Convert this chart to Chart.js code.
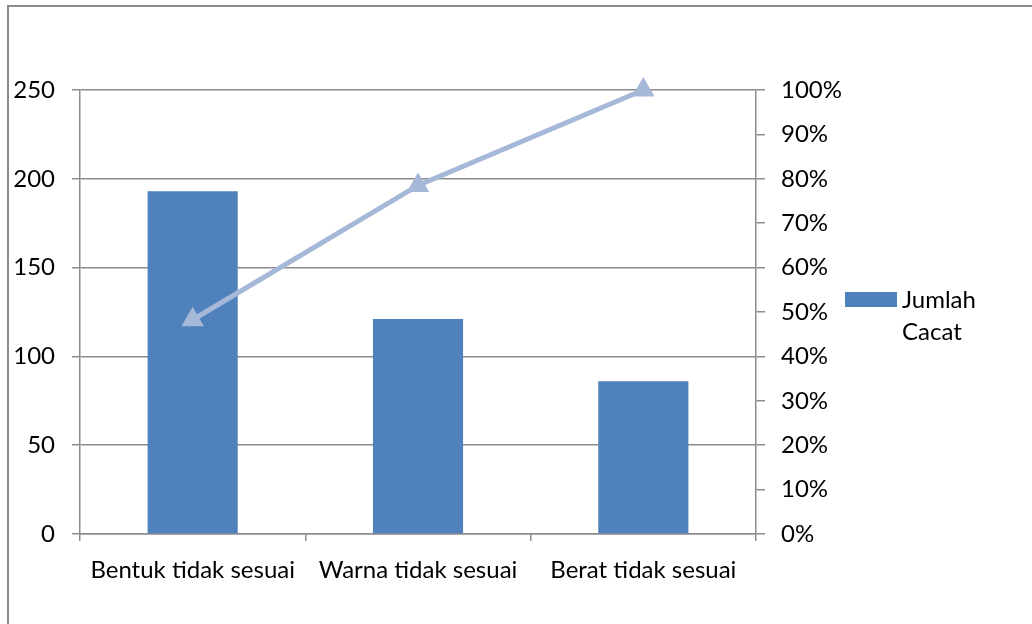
<!DOCTYPE html>
<html>
<head>
<meta charset="utf-8">
<script src="https://cdn.jsdelivr.net/npm/chart.js@4/dist/chart.umd.min.js"></script>
<style>
  html, body { margin: 0; padding: 0; background: #fff; }
  #wrap { position: relative; width: 1032px; height: 624px; overflow: hidden; }
  #frame { position: absolute; left: 7px; top: 5px; width: 1100px; height: 700px;
           border-top: 2px solid #8c8c8c; border-left: 2px solid #8c8c8c; }
  canvas { position: absolute; left: 0; top: 0; }
  #legend { position: absolute; left: 845px; top: 283px; font-family: Lato, sans-serif;
            font-size: 24px; color: #000; }
  #legend .sw { position: absolute; left: 0; top: 9px; width: 52px; height: 15px; background: #4f81bd; }
  #legend .tx { position: absolute; left: 57px; top: 0; line-height: 32px; white-space: nowrap; }
</style>
</head>
<body>
<div id="wrap">
  <div id="frame"></div>
  <canvas id="c" width="1032" height="624"></canvas>
  <div id="legend"><div class="sw"></div><div class="tx">Jumlah<br>Cacat</div></div>
</div>
<script>
const categories = ["Bentuk tidak sesuai", "Warna tidak sesuai", "Berat tidak sesuai"];
const jumlahCacat = [193, 121, 86];
const kumulatifPersen = [48.25, 78.5, 100];
const leftTicks = [0, 50, 100, 150, 200, 250];
const rightTicks = [0, 10, 20, 30, 40, 50, 60, 70, 80, 90, 100];

const gridColor = '#8c8c8c';
const fontSpec = { family: 'Lato', size: 24 };

new Chart(document.getElementById('c'), {
  data: {
    labels: categories,
    datasets: [
      {
        type: 'line',
        label: 'Persentase Kumulatif',
        data: kumulatifPersen,
        yAxisID: 'y1',
        borderColor: '#a6b8d8',
        backgroundColor: '#a6b8d8',
        borderWidth: 5,
        pointStyle: 'triangle',
        pointRadius: 13,
        pointBorderWidth: 0,
        pointBackgroundColor: '#a6b8d8',
        tension: 0,
        clip: false,
        order: 0
      },
      {
        type: 'bar',
        label: 'Jumlah Cacat',
        data: jumlahCacat,
        yAxisID: 'y',
        backgroundColor: '#4f81bd',
        borderWidth: 0,
        categoryPercentage: 1,
        barPercentage: 0.4,
        order: 1
      }
    ]
  },
  options: {
    responsive: false,
    animation: false,
    devicePixelRatio: 1,
    layout: { padding: { left: 0, right: 0, top: 90, bottom: 0 } },
    plugins: { legend: { display: false }, tooltip: { enabled: false } },
    scales: {
      x: {
        offset: true,
        grid: { offset: true, drawOnChartArea: false, color: gridColor, lineWidth: 1.5, tickLength: 7 },
        border: { display: true, color: gridColor, width: 1.5 },
        ticks: { color: '#000', font: fontSpec, padding: 15, maxRotation: 0, autoSkip: false },
        afterFit: s => { s.height = 90; }
      },
      y: {
        position: 'left',
        min: 0, max: 250,
        afterBuildTicks: s => { s.ticks = leftTicks.map(v => ({ value: v })); },
        grid: { color: gridColor, lineWidth: 1.5, tickLength: 8 },
        border: { display: true, color: gridColor, width: 1.5 },
        ticks: { color: '#000', font: fontSpec, padding: 17 },
        afterFit: s => { s.width = 80; }
      },
      y1: {
        position: 'right',
        min: 0, max: 100,
        afterBuildTicks: s => { s.ticks = rightTicks.map(v => ({ value: v })); },
        grid: { drawOnChartArea: false, color: gridColor, lineWidth: 1.5, tickLength: 9 },
        border: { display: true, color: gridColor, width: 1.5 },
        ticks: { color: '#000', font: fontSpec, padding: 16, callback: v => v + '%' },
        afterFit: s => { s.width = 276; }
      }
    }
  }
});
</script>
</body>
</html>
